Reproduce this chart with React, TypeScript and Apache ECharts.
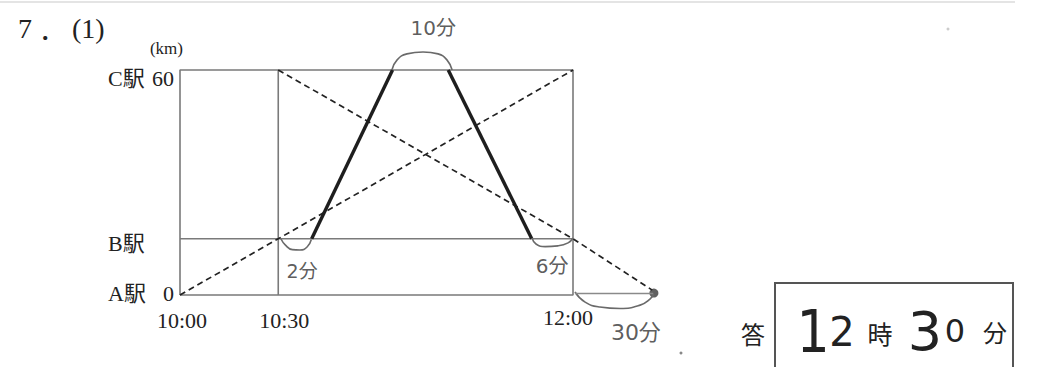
import React, { useEffect, useRef } from 'react';
import * as echarts from 'echarts';

// x = minutes after 10:00, y = km from A駅
const X_TICK_LABELS: Record<number, string> = { 0: '10:00', 30: '10:30', 120: '12:00' };
const Y_STATIONS: Record<number, [string, string]> = { 0: ['A駅', '0'], 15: ['B駅', ''], 60: ['C駅', '60'] };

const T_END = 120; // 12:00
const T_AXIS_MAX = 150;
const D_MAX = 60; // C駅
const REF_TIME = 30; // 10:30
const REF_STATION = 15; // B駅

const LINE_A_TO_C = [[0, 0], [120, 60]];
const LINE_C_TO_A = [[30, 60], [120, 15], [144.2, 1.3]];
const TRAIN_UP = [[40.2, 15], [64.9, 60]];
const TRAIN_DOWN = [[81.9, 60], [107.4, 15]];

// handwritten annotations
const ARC_2 = [[30.8, 15], [32.2, 13.3], [34.3, 12.1], [36.6, 12], [38.8, 12.8], [40.1, 14.8]];
const ARC_10 = [[64.7, 60], [66.3, 62.7], [69.3, 64.3], [74.2, 64.8], [78.8, 64.3], [81.5, 62.7], [83.1, 60]];
const ARC_6 = [[107.5, 15.2], [108.7, 13.6], [111.5, 12.9], [115.4, 13.1], [118.5, 13.9], [120, 15.2]];
const ARC_30 = [[120.6, 0.8], [123.7, -1.9], [128.2, -3.2], [134.4, -3.6], [140.5, -2.7], [143.5, -1.1], [144.7, 0.3]];
const BASE_30 = [[120.6, 0.4], [144.5, 0.4]];
const END_POINT = [[144.7, 0.5]];
const NOTES = [
  { name: '10分', value: [77.3, 71.2], size: 20 },
  { name: '2分', value: [37.3, 6.4], size: 19 },
  { name: '6分', value: [113.6, 7.7], size: 20 },
  { name: '30分', value: [139.2, -10.1], size: 22 },
];
const ANSWER_HOUR = ['1', '2'];
const ANSWER_MIN = ['3', '0'];

const SERIF = '"Liberation Serif", "Noto Sans CJK JP", serif';
const CJK = '"Noto Sans CJK JP", sans-serif';
const HAND = '"DejaVu Sans", "Noto Sans CJK JP", sans-serif';
const HAND_NARROW = '"Liberation Sans Narrow", "DejaVu Sans Condensed", "DejaVu Sans", sans-serif';

const INK = '#222';
const FRAME = '#7a7a7a';
const PENCIL = '#6a6a6a';

function tok(padding: number[]) {
  return { fontFamily: SERIF, fontSize: 22, color: INK, padding };
}

export default function App() {
  const ref = useRef<HTMLDivElement>(null);
  useEffect(() => {
    if (!ref.current) return;
    const chart = echarts.init(ref.current, undefined, { renderer: 'svg' });
    const plain = (data: number[][], color: string, width: number, type: any = 'solid', smooth: any = false) => ({
      type: 'line', data, smooth, symbol: 'none', clip: false, silent: true,
      lineStyle: { color, width, type },
    });
    const frameBox = [[0, 0], [0, D_MAX], [T_END, D_MAX], [T_END, 0], [0, 0]];
    const vLine = [[REF_TIME, 0], [REF_TIME, D_MAX]];
    const hLine = [[0, REF_STATION], [T_END, REF_STATION]];
    chart.setOption({
      animation: false,
      backgroundColor: '#fff',
      grid: { left: 180, top: 70, width: 393 * T_AXIS_MAX / T_END, height: 225, show: false },
      xAxis: {
        type: 'value', min: 0, max: T_AXIS_MAX, interval: 30,
        axisLine: { show: false }, axisTick: { show: false }, splitLine: { show: false },
        axisLabel: {
          margin: 11, showMaxLabel: true, showMinLabel: true,
          fontFamily: SERIF, fontSize: 22, color: INK,
          formatter: (v: number) => {
            const t = X_TICK_LABELS[v];
            return t ? `{t${v}|${t}}` : '';
          },
          rich: {
            t0: { fontFamily: SERIF, fontSize: 22, color: INK, padding: [3, 0, 0, 4] },
            t30: { fontFamily: SERIF, fontSize: 22, color: INK, padding: [3, 0, 0, 12] },
            t120: { fontFamily: SERIF, fontSize: 22, color: INK, padding: [0, 10, 0, 0] },
          },
        },
      },
      yAxis: {
        type: 'value', min: 0, max: D_MAX, interval: 15,
        name: '{u|(km)}', nameLocation: 'end', nameGap: 13,
        nameTextStyle: {
          align: 'right', verticalAlign: 'bottom', padding: [0, -3, 0, 0],
          rich: { u: { fontFamily: SERIF, fontSize: 17, fontWeight: 'normal', color: INK } },
        },
        axisLine: { show: false }, axisTick: { show: false }, splitLine: { show: false },
        axisLabel: {
          margin: 6, fontFamily: SERIF, fontSize: 22, color: INK,
          formatter: (v: number) => {
            const s = Y_STATIONS[v];
            if (!s) return '';
            const k = v === 60 ? 'c' : v === 15 ? 'b' : 'a';
            return `{${k}s|${s[0]}}{${k}v|${s[1]}}`;
          },
          rich: {
            cs: { ...tok([16, 0, 0, 0]), width: 42, align: 'left' },
            cv: { ...tok([16, 0, 0, 0]), width: 24, align: 'right' },
            bs: { ...tok([10, 0, 0, 0]), width: 42, align: 'left' },
            bv: { ...tok([10, 0, 0, 0]), width: 24, align: 'right' },
            as: { ...tok([0, 0, 4, 0]), width: 42, align: 'left' },
            av: { ...tok([0, 0, 4, 0]), width: 24, align: 'right' },
          },
        },
      },
      series: [
        plain(frameBox, FRAME, 1.6),
        plain(vLine, FRAME, 1.6),
        plain(hLine, FRAME, 1.6),
        plain(LINE_A_TO_C, INK, 1.7, [6, 4]),
        plain(LINE_C_TO_A, INK, 1.7, [6, 4]),
        plain(TRAIN_UP, '#1e1e1e', 3.4),
        plain(TRAIN_DOWN, '#1e1e1e', 3.4),
        plain(ARC_2, PENCIL, 1.6, 'solid', 0.5),
        plain(ARC_10, PENCIL, 1.6, 'solid', 0.5),
        plain(ARC_6, PENCIL, 1.6, 'solid', 0.5),
        plain(ARC_30, PENCIL, 1.6, 'solid', 0.5),
        plain(BASE_30, '#8a8a8a', 1.4),
        {
          type: 'scatter', data: END_POINT, symbolSize: 9, clip: false, silent: true,
          itemStyle: { color: '#3a3a3a' },
        },
        {
          type: 'scatter', clip: false, silent: true, symbolSize: 0,
          data: NOTES.map((n) => ({
            name: n.name, value: n.value,
            label: { show: true, position: 'inside', formatter: '{b}', fontFamily: HAND, fontSize: n.size, color: '#333' },
          })),
        },
      ],
      graphic: [
        { type: 'line', shape: { x1: 0, y1: 2, x2: 1015, y2: 2 }, style: { stroke: '#e4e4e4', lineWidth: 2 } },
        {
          type: 'text', x: 18, y: 28,
          style: {
            text: '{n|7}{p|．}{q|(1)}', verticalAlign: 'middle', align: 'left',
            rich: {
              n: { fontFamily: SERIF, fontSize: 28, fill: INK },
              p: { fontFamily: CJK, fontSize: 26, fill: INK, width: 40, align: 'center' },
              q: { fontFamily: SERIF, fontSize: 28, fill: INK },
            },
          },
        },
        { type: 'text', x: 753, y: 333, style: { text: '答', fontFamily: CJK, fontSize: 24, fill: INK, align: 'center', verticalAlign: 'middle' } },
        { type: 'rect', shape: { x: 775, y: 283, width: 238, height: 120 }, style: { fill: 'none', stroke: '#555', lineWidth: 2 } },
        { type: 'text', x: 880, y: 333, style: { text: '時', fontFamily: CJK, fontSize: 25, fill: INK, align: 'center', verticalAlign: 'middle' } },
        { type: 'text', x: 995, y: 331, style: { text: '分', fontFamily: CJK, fontSize: 24, fill: INK, align: 'center', verticalAlign: 'middle' } },
        {
          type: 'text', x: 798, y: 332,
          style: {
            text: `{a|${ANSWER_HOUR[0]}}{b|${ANSWER_HOUR[1]}}`, align: 'left', verticalAlign: 'middle',
            rich: {
              a: { fontFamily: HAND_NARROW, fontSize: 58, fill: '#222', width: 30, align: 'center' },
              b: { fontFamily: HAND, fontSize: 40, fill: '#222', width: 28, align: 'center' },
            },
          },
        },
        {
          type: 'text', x: 908, y: 331,
          style: {
            text: `{a|${ANSWER_MIN[0]}}{b|${ANSWER_MIN[1]}}`, align: 'left', verticalAlign: 'middle',
            rich: {
              a: { fontFamily: HAND, fontSize: 54, fill: '#222', width: 34, align: 'center' },
              b: { fontFamily: HAND, fontSize: 32, fill: '#222', width: 26, align: 'center' },
            },
          },
        },
        { type: 'circle', shape: { cx: 681, cy: 353, r: 1.5 }, style: { fill: '#888' } },
        { type: 'circle', shape: { cx: 948, cy: 29, r: 1.5 }, style: { fill: '#ccc' } },
      ],
    });
    return () => chart.dispose();
  }, []);
  return <div ref={ref} style={{ position: 'absolute', left: 0, top: 0, width: 1040, height: 367 }} />;
}
